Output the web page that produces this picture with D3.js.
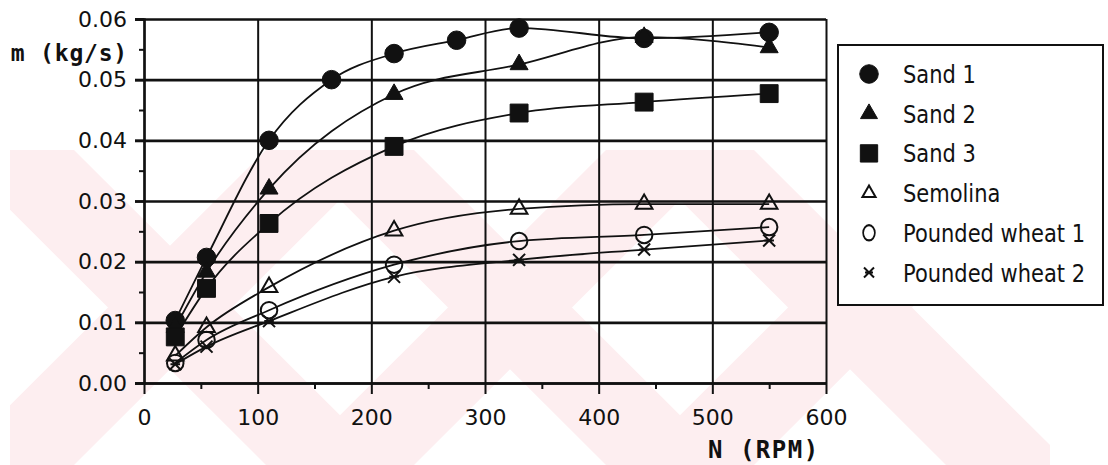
<!DOCTYPE html>
<html>
<head>
<meta charset="utf-8">
<script src="https://cdn.jsdelivr.net/npm/d3@7"></script>
<style>
  html, body { margin: 0; padding: 0; background: #fff; }
  svg { display: block; }
  .tick text { font-family: "DejaVu Sans", sans-serif; }
</style>
</head>
<body>
<div id="chart"></div>
<script>
// data
const rpm = [27.5, 55, 110, 165, 220, 275, 330, 440, 550];

const sand1    = [0.0103, 0.0207, 0.0400, 0.0500, 0.0543, 0.0565, 0.0585, 0.0568, 0.0578];
const sand2    = [0.0092, 0.0183, 0.0320, null, 0.0476, null, 0.0525, 0.0570, 0.0553];
const sand3    = [0.0076, 0.0156, 0.0263, null, 0.0390, null, 0.0445, 0.0463, 0.0477];
const semolina = [0.0045, 0.0092, 0.0158, null, 0.0251, null, 0.0287, 0.0295, 0.0295];
const wheat1   = [0.0033, 0.0071, 0.0120, null, 0.0195, null, 0.0234, 0.0244, 0.0257];
const wheat2   = [0.0031, 0.0060, 0.0102, null, 0.0175, null, 0.0203, 0.0220, 0.0235];

const seriesNames = ["Sand 1", "Sand 2", "Sand 3", "Semolina", "Pounded wheat 1", "Pounded wheat 2"];
const seriesVals  = [sand1, sand2, sand3, semolina, wheat1, wheat2];

const xTicks = [0, 100, 200, 300, 400, 500, 600];
const yTicks = [0, 0.01, 0.02, 0.03, 0.04, 0.05, 0.06];
const xMinor = [50, 150, 250, 350, 450, 550];
const yMinor = [0.005, 0.015, 0.025, 0.035, 0.045, 0.055];

// marker style per series
const markers = [
  { type: d3.symbolCircle,   size: 270, fill: "#000", legendSize: 270 },
  { type: d3.symbolTriangle, size: 140, fill: "#000", legendSize: 125 },
  { type: d3.symbolSquare,   size: 320, fill: "#000", legendSize: 300 },
  { type: d3.symbolTriangle, size: 120, fill: "none", legendSize: 75 },
  { type: d3.symbolCircle,   size: 215, fill: "none", legendSize: 150 },
  { type: "star",            size: 6,   fill: "none", legendSize: 5 }
];

// size
const W = 1108, H = 465;
const x = d3.scaleLinear().domain([0, 600]).range([144, 826]);
const y = d3.scaleLinear().domain([0, 0.06]).range([383, 19]);

const svg = d3.select("#chart").append("svg")
  .attr("width", W).attr("height", H);

// watermark (faint pink X shapes behind the chart)
const wm = svg.append("g");
wm.append("clipPath").attr("id", "wmclip")
  .append("rect").attr("x", 10).attr("y", 150).attr("width", 1040).attr("height", 315);
const wmg = wm.append("g").attr("clip-path", "url(#wmclip)").attr("fill", "#fdeef0");
[170, 510, 850].forEach(cx => {
  const a = 158, w = 62;
  wmg.append("path").attr("d",
    `M${cx - a - w},150 L${cx - a + w},150 L${cx + a + w},465 L${cx + a - w},465 Z`);
  wmg.append("path").attr("d",
    `M${cx + a - w},150 L${cx + a + w},150 L${cx - a + w},465 L${cx - a - w},465 Z`);
});

// horizontal grid
svg.append("g")
  .attr("transform", "translate(826,0)")
  .call(d3.axisLeft(y).tickValues(yTicks).tickSize(826 - 135).tickFormat(""))
  .call(g => g.select(".domain").remove())
  .call(g => g.selectAll("line").attr("stroke", "#111").attr("stroke-width", 2.6));

// vertical grid
svg.append("g")
  .attr("transform", "translate(0,19)")
  .call(d3.axisBottom(x).tickValues(xTicks).tickSize(383 - 19 + 11).tickFormat(""))
  .call(g => g.select(".domain").remove())
  .call(g => g.selectAll("line").attr("stroke", "#111").attr("stroke-width", 2));

// y axis labels
svg.append("g")
  .attr("transform", "translate(144,0)")
  .call(d3.axisLeft(y).tickValues(yTicks).tickSize(9).tickPadding(8)
    .tickFormat(d3.format(".2f")))
  .call(g => g.select(".domain").attr("stroke", "#111").attr("stroke-width", 2.4))
  .call(g => g.selectAll("line").attr("stroke", "#111").attr("stroke-width", 2.4))
  .call(g => g.selectAll("text").attr("font-size", 22).attr("fill", "#111"));

// y minor ticks
svg.append("g")
  .attr("transform", "translate(144,0)")
  .call(d3.axisLeft(y).tickValues(yMinor).tickSize(5).tickFormat(""))
  .call(g => g.select(".domain").remove())
  .call(g => g.selectAll("line").attr("stroke", "#111").attr("stroke-width", 2));

// x axis labels
svg.append("g")
  .attr("transform", "translate(0,383)")
  .call(d3.axisBottom(x).tickValues(xTicks).tickSize(0).tickPadding(26)
    .tickFormat(d3.format("d")))
  .call(g => g.select(".domain").attr("stroke", "#111").attr("stroke-width", 2.6))
  .call(g => g.selectAll("text").attr("font-size", 22).attr("fill", "#111"));

// x minor ticks
svg.append("g")
  .attr("transform", "translate(0,383)")
  .call(d3.axisBottom(x).tickValues(xMinor).tickSize(6).tickFormat(""))
  .call(g => g.select(".domain").remove())
  .call(g => g.selectAll("line").attr("stroke", "#111").attr("stroke-width", 2));

// axis titles
svg.append("text")
  .attr("x", 128).attr("y", 61)
  .attr("text-anchor", "end")
  .attr("font-family", "DejaVu Sans Mono, monospace")
  .attr("font-weight", "bold")
  .attr("font-size", 23)
  .attr("letter-spacing", 0.8)
  .attr("fill", "#111")
  .text("m (kg/s)");

svg.append("text")
  .attr("x", 708).attr("y", 458)
  .attr("font-family", "DejaVu Sans Mono, monospace")
  .attr("font-weight", "bold")
  .attr("font-size", 24)
  .attr("letter-spacing", 1.5)
  .attr("fill", "#111")
  .text("N (RPM)");

// lines
const line = d3.line()
  .defined(d => d.v !== null)
  .x(d => x(d.n))
  .y(d => y(d.v))
  .curve(d3.curveMonotoneX);

seriesVals.forEach(vals => {
  const pts = rpm.map((n, i) => ({ n, v: vals[i] })).filter(d => d.v !== null);
  svg.append("path")
    .datum(pts)
    .attr("d", line)
    .attr("fill", "none")
    .attr("stroke", "#111")
    .attr("stroke-width", 1.8);
});

// star marker (x with a bar)
function starPath(s) {
  return `M${-s},${-s}L${s},${s}M${-s},${s}L${s},${-s}M${-s * 0.8},0L${s * 0.8},0`;
}

function markerPath(m, size) {
  if (m.type === "star") return starPath(size);
  return d3.symbol().type(m.type).size(size)();
}

// markers
seriesVals.forEach((vals, si) => {
  const m = markers[si];
  const pts = rpm.map((n, i) => ({ n, v: vals[i] })).filter(d => d.v !== null);
  svg.append("g").selectAll("path")
    .data(pts)
    .join("path")
    .attr("transform", d => `translate(${x(d.n)},${y(d.v)})`)
    .attr("d", markerPath(m, m.size))
    .attr("fill", m.fill === "none" ? "none" : "#111")
    .attr("stroke", "#111")
    .attr("stroke-width", m.fill === "none" ? 2 : 1);
});

// legend
const lg = svg.append("g");
lg.append("rect")
  .attr("x", 838).attr("y", 45)
  .attr("width", 265).attr("height", 260)
  .attr("fill", "#fff")
  .attr("stroke", "#111")
  .attr("stroke-width", 2);

seriesNames.forEach((name, i) => {
  const m = markers[i];
  const cy = 74 + i * 39.7;
  lg.append("path")
    .attr("transform", `translate(869,${cy})${i === 4 ? " scale(0.85,1.1)" : ""}`)
    .attr("d", markerPath(m, m.legendSize))
    .attr("fill", m.fill === "none" ? "none" : "#111")
    .attr("stroke", "#111")
    .attr("stroke-width", m.fill === "none" ? 2 : 1);
  lg.append("text")
    .attr("transform", `translate(903,${cy + 9}) scale(1,1.2)`)
    .attr("font-family", "DejaVu Sans, sans-serif")
    .attr("font-size", 21)
    .attr("fill", "#111")
    .text(name);
});
</script>
</body>
</html>
